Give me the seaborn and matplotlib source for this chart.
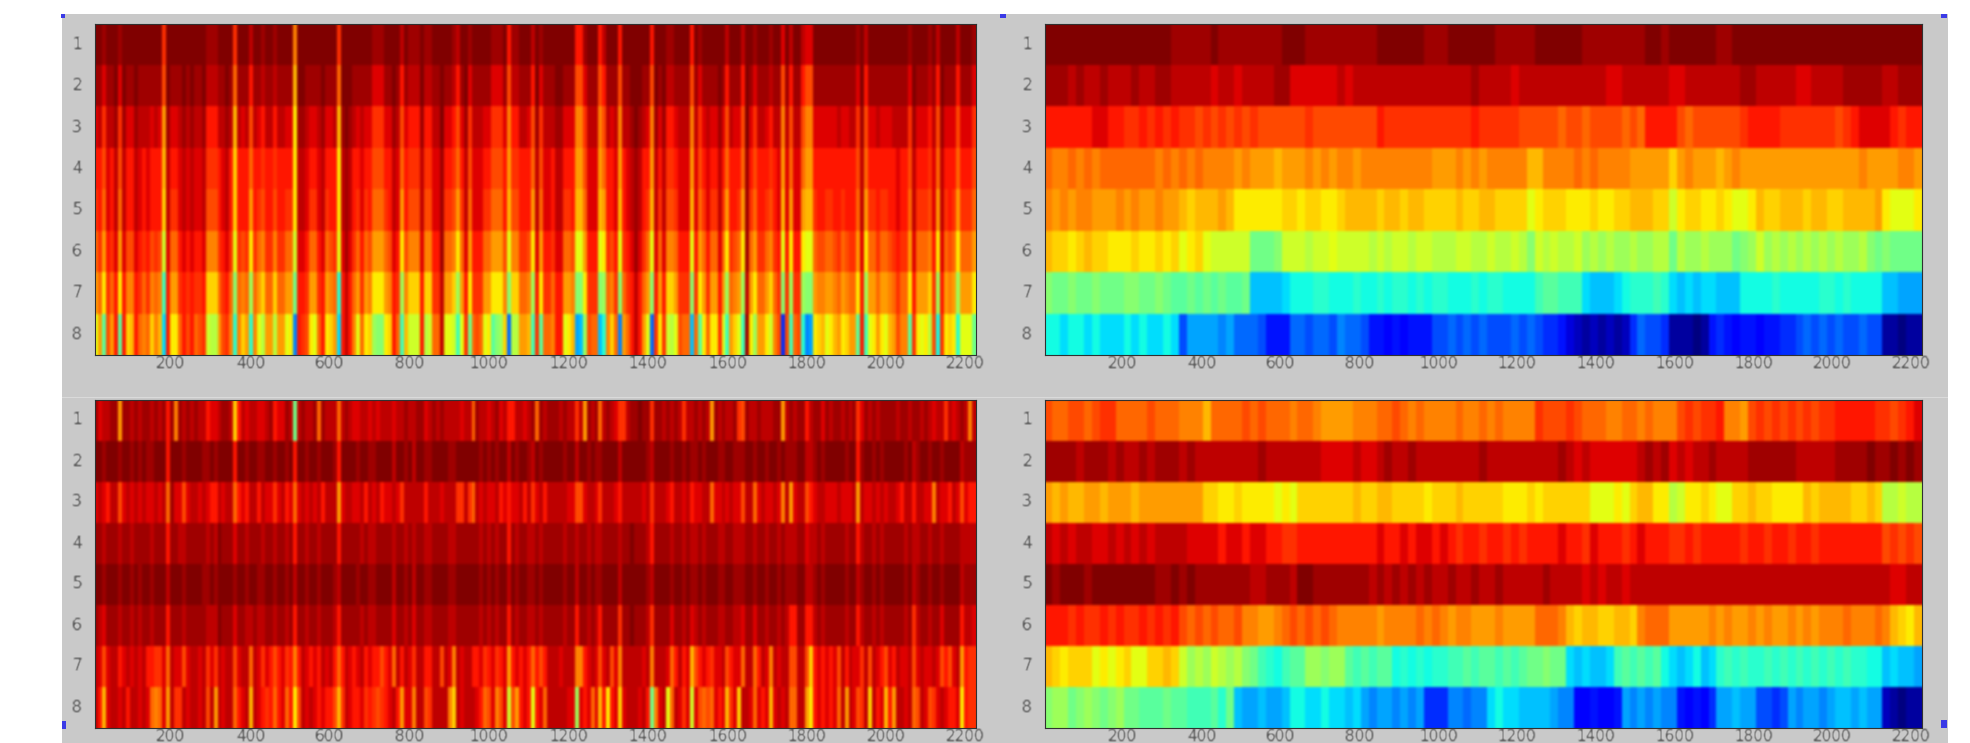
import numpy as np
import pandas as pd
import matplotlib
matplotlib.use("Agg")
import matplotlib.pyplot as plt
from matplotlib.patches import Rectangle
import seaborn as sns

# Each character is one image column.
# Base 36 level: 0 = darkest blue ... z = darkest red of the jet scale.
top_left = [
    "zzyzzzyzzz zzzzzzzuzz zzzzzzzzyy yzzzzuzzzx zzyzzyzzzz rzzzzzzzzz zuzzzzzzzz yyyzzzzxzy yyzyyzzzzz yxzzyzzzzz yyyzvyyzzz xzyzzzzzzz zvvyzzzvxz zzvzzzzzzz vzzzyyzzzz vzyzzzzzzx zzzxzzyzzz yzzwzxzzxw wzzzzzzzzz zzyzxzzzzz zzzzzyzzzz yzxzzzzxzz zy",
    "yywyyzwzyy zyyyyyytzy yyzyzyyzxx xyyzysyyyv yyxyyxyyyy pzzyyyyzyy yszzzyyyyy wwwyyzyvyx xxzxxyyzyy xvyzwyyyyy wwwytxxyyy vzwyyyzzyy yttwyyytvy yytyyzzzyy tzyzxxyyyy tywyyyyzyv yyyvzywyyy xyytyvyyvt tyyyyyyyyy yywzvyyyyy yyyyywzyyy xyvzyyyvyy yw",
    "wxuxxyuyww yxxxwxwqyw wxyxyxxyvv vxxyxpxwxt xwvxxvxxww nyyxwwxyww xpyzyxwxww uuuwwyxtwv vvyvvxxzww vtwyuxxxww uuuwrvvxxw tyuxxxyyww wrruxxxrtx wxrxxyzyxw rywyvvwxxx rxuwxwwywt xwwtzwuxxw vxxrxtxxtr rwwwwwwxww xxuytwwxww wxxxxuywww vxtywwwtww wu",
    "vvtwvxtxvv xwvwvvvpxv vwxwxwwxuu uvwxvovvvs vvuvvuvvvv nxxwvvwxvv vnxyxvvwvv tttvvxwsvu uuxuuwwyvv usvxtwwwvv tttvquuvvv sxtwwvxxvv vqqtwwwqsv vwqvwxyxvv qxvxuuvwww qwtvwvvxvs vvvsyvtvvv uvwqwswwsq qvvvvvvvvv vvtxsvvvvv vvwvvtxvvv uwsxvvvsvv vt",
    "uvswvxsxvv xwvwvvvoxu uwxwxwwxtt tvwxvovvvq vutvvtvvuu nxxwuuwxuv vnxyxvuwuv sssuvxwqvt ttxttwwyuu tquxswwwuu sssvpttvvv qxswwvxxuu vppswwwpqv vwpvwxyxvu pxuxttuwww pwsuwuuxuq vvuqyusvvu tvwpwqwwqp puvvuuvvuv vvsxquuvuu vvwvvsxuuu twqxuvuquu us",
    "suqvuwqwtt wvuvtutlws svwvwvvwrr ruvwumutun usruuruuss lwwvssvwst umwywusvst qqqstwvntr rrwrrvvyss rnswqvvvss qqqtmrruut nwqvvuwwss tmmqvvvmnu tvmuvwywus mwswrrsvvv mvqsvsswsn utsnysquus ruvmvnvvnm msttsstust uuqwnssuss tuvuuqwsss rvnwstsnss sq",
    "qsnusvnvrr vusursrfvq quvuvuuvoo osuvsisrsj sqossossqq hvvuqquvqr sevxvsquqr nnnqrvujro oovoouuxqq ojqvnuuuqq nnnrioossr jvnuusvvqq riinuuuijs ruisuvxvsq ivqvooquuu iunquqqvqj srqjxqnssq osuiujuuji iqrrqqrsqr ssnvjqqsqq rsussnvqqq oujvqrqjqq qn",
    "mqgtqvgvop vsrsorpcvn nsvtvstulk kqtureroqe rmkqqkqqmn 9vutnmsvno qcvxvrmsno jiinovsfpl llvklssxmm lfmuhstsmn gijo8kkqqp fugssrvvmn pabjtssber os9qsvxvqm 8unulkmtss bsgnsnnumf qomfynjqqn lrt6tfste9 anopmnpqno qqgvfmnqnm pqtrrgunmn ktdunonemm mh",
]

bottom_left = [
    "ywxxyyqyyx yxyyxyxyvy ryxyxyxxvw wxyyxovxwx xwwxyvwwyx hxyxxysyxx xsxyxwwxxw xwxxxwxxyx xyywxyxyxx xxwxxsyxxw xywxvvxxwx ysyxyyyxyx xuxqyxysxy xwuuxyyzyy uyyxyxyxux xyxyxqyxyx xyutyxxyxx xyyqxyxyyv xyywyxyyxy xyuwyxyxyy yyxyyxyyxy xwxxuxwxyx rx",
    "zzyzzzyzzy zyzyyzzzvz zzyzzzzyyz yzzzzvzzyz zyyzzyzzyz vzzyzzyzzz yvzzzzyzzy yzzzzxzzyz xzzyyzzzzy yzzzzzzyzy zyzzxzyzzy xzyzzzzzyz zxzzyzyyzz zzxzzzzzzy xzzzzyzzyz yyzyzzzyyz zyyyzzyzzy zzyzyyyzzx xyzyzzzzzy zzvyzzyzyz zzzzyzxyzz yzzyzzzzxy yy",
    "wxwvxxtwxw xwxwwxwxsy wwtwxxwxwv vxwxxsvwvx xvxwwuwxvw swxwxwxvxx xqwxxwwxvx wxvwwxwuxx xxxvxxxwxx xuuxusxwxw wxvwvwwxvx uwxvxxxxxw wttwxxwuxx xwvxxxxxwx uxxxwvxxwx vwwxxswwxw xwwtxxswxw wxwrxqwxxt vwxxwwwxww wxqxwwxwxw xxwvxxvxxw wrxwwvxwtw vv",
    "yyxyyyxyyx yyyyxyyyvy yxxyyyyyxy xzyyywyyxy yyxyyxyyxy vyyxyyxyyy yvyyyyyxyx xyyyyxyyxy xyyxxyyyyx xyyyyyyxyx yxyyvyxyyx xyxyyyyyxy yxyyxyxxyy yyxyyzyyyx vyyyyxyyxy xxyxyyyxxy yxxxyyxyyx yyxyxxxyyw xxyxyyyyyx yyvxyyxyxy yyyyxyxxyy xyyxyyyyxx xx",
    "zzyzzzyzzy zyzzyzzzxz zzyzzzzyyz yzzzzyzzyz zyyzzyzzyz xzzyzzyzzz yxzzzzyzzy yzzzzxzzyz xzzyyzzzzy yzzzzzzyzy zyzzxzyzzy yzyzzzzzyz zxzzyzyyzz zzxzzzzzzy xzzzzyzzyz yyzyzzzyyz zyyyzzyzzy zzyzyyyzzx xyzyzzzzzy zzxyzzyzyz zzzzyzxyzz yzzyzzzzxy yy",
    "yxwyyyxyyx yxyyxyyyvy yyxyyyyyxx xzyyywyyxx yxxyyxyyxy vyyxyyxyyy xvyyyyyxyx xyyyywyyxy wyyxxyyyyx xyyyyyyxyx yxyyvyxyyx xyxyyyyyxy yvyyxyxvyy yyuyyzyyyx uyyyywyyxy wxyxyyyxxy yxxwyywyyx yyxyxvvyyv vxyxyyyyyx yyvxyyxyxy yyyyxyuxyy xyywyyyyvx xw",
    "xwtwxxvwxw xwxvvuuwsx wwtwxxwxuw uxwxxtwxxs xwuwvtvwuv rvxwvwvxwx vsvxwvwxvw vvtvwsxvxw uxxvvxxtxw rxwxxvvwuv wuvwqvwvwv svtvxxxwxx xrrvwxwtwx twrxxxxxwx rxxxwsvxvw ptvwvuwwxt vwwsxxsvxw rxwxxttxxt ovwvwvwtxv xwwuxtxwvt wvxwwxtwxw wxwtvtwxqv uu",
    "xvpwxxwxvx xwxwsrswqx uuxwxxwxtx qxwxxsvwxp xwvuvsvwsv ntxwxwvwvv tpuxwvvwuv utuvwxvqww rxxtuxxxxr oxwxxxwvst wrtwltqvwv mvwsxxxxxw wjwvwswpvn vwowxxxwxv hrwxmsxwuw lwtstswvwp uwoxxwswvw pwxwxssxxq nvwvwvwsxq xwtuxoxvwp vqxxwxstxw tuwxwvvwnv uu",
]

top_right = [
    "zzzzzzzzzz zzzzzzyyyy yzyyyyyyyy zzzyyyyyyy yyzzzzzzyy yzzzzzzyyy yyzzzzzzyy yyyyyyzzyz zzzzzyyzzz zzzzzzzzzz zzzzzzzzzzz",
    "yyyxyxxyxx xyxxyyxxxx xwxxwxxxxy ywwwwwwxwx xxxxxxxxxx xxxxyxxxxw xxxxxxxxxx xwwxxxxxxw wxxxxxxxyy xxxxxwwxxx xyyyyyxxyyy",
    "vvvvvvwwvv uuvuvuvuut ututututttt ttuttttttt tvuuuuuuuu uuuvuuuuut ttttsttstt ttstsvvvvt sttttttuvv vvuuuuuuut uvwwwwvuvvu",
    "srrsrsrsss ssssrsrsrs rrrrqrqqqp qqqrqrqrrq rrrrrrrrrq qqrqrqrrrr rpprrrrsrs rrrrqqqqqo qrqqqpqrqq qqqqqqqqqq qqqrqqqqrrq",
    "rqrqrrqqqr qrqqrqqpop ppqpnnnnnn oonoonnopp ppoppoppoo oopooppooo omnooonnno nnoopppool noonnonmmn poopppoppo oppppqnmmmn",
    "poonopoonn nonnonomno mlllllhhhi lllkllmlll lklkllkllk kkllkklkkl kilklkkljk jkjjkjjkkh kjjkjjjhij ljkjkjkjkj kjjkihihhhh",
    "ihhihhihhh iihhihgghg hghgghbbbb cdddeeddde ddedeedede edddedeedd ddfggfffcb bbcdeeefec bcbccbbbdd ddedddddee deddddbbaaa",
    "ddcddcdccc dcdccdc7aa aa9a888755 5887887988 7554545557 7878787778 7876653212 1212687761 1101565455 4556678787 87787711011",
]

bottom_right = [
    "tssttstuus ssstsssrrr psssststss srssrqqqqr rrsstsrsrr rrsrrsrsrr rrutttutss srrssrsrrr tutuuvrrqt ututututuu vvvvvuutuvw",
    "yyyyxyyyxy xxyxyyyxyx xxxxxxxyxx xxxxxwwwwx wwxyxxyxxx xxxxxyxxxx xxxxxyxwxw wwwwwxyxyw xwxxyxxxxy yyyyyxxxxx yyyyzyyzyzy",
    "qpqppqqpqq qpqqqqqqqq oonnonnnnm nmooooooop ooppoooono oopooooonn nonoooooom mmnmoppnnk lnnonmmoop oonnnnpopp ppoopokklkk",
    "xwxwxxwwxw xwxwxxxxww wwvwwvwwvv uuvvvvvvvv vvwvvwvwwv wvuvvuvvuv uvvvvwvvuw vvvuvwvvvu uvuvvvvvuv vuvvuvvuvv vvvvvvtutut",
    "zyzzzyzzzz zzzzyyzyzy yyyyyyxxyy yxzzyyyyyy yxyxyxyxyx xyxxyxxyxx xxxyxxxxwx wxxwxxxxxx xxxxxxxxxx xxxxxxxxxx xxxxxxxwwxx",
    "vvvuvuuvuv uuvuvuvtst stsstrrqqr stststsrrr rrqrrrrsrs rqrrqqqrqq qqsssrpopp oopporsssq qqqqrqrqqr qrqqrqrqrr rsrrrsrponp",
    "ponooomnmn ommoopoljk jlkjkihfed fggjjijjgf gfggdedede effgfggfgf ghhihhcbcb bcfgfgfgdc bcdbcefefe efefefefef efeeddbcbba",
    "ijjhijihij hhggghggff fgehbaabaa bddccdccbc a9aa9a9a66 699899cdcc bbbba99445 445a9a9a99 54546aabaa 7767a9aa9a bbabaa21011",
]

row_labels = [1, 2, 3, 4, 5, 6, 7, 8]
x_ticks = [200, 400, 600, 800, 1000, 1200, 1400, 1600, 1800, 2000, 2200]

WIDTH, HEIGHT = 1970, 743
GREY = "#c9c9c9"


def decode(rows, n_cols):
    """Turn the level strings into a frame of jet values between 0 and 1."""
    table = []
    for row in rows:
        row = row.replace(" ", "")
        row = (row + row[-1] * n_cols)[:n_cols]
        table.append([int(c, 36) / 35 for c in row])
    return pd.DataFrame(table, index=row_labels)


def soften(image, dpi, radius=2, pad=0):
    """Small triangle blur, the reference is a blown up low-res screenshot."""
    if pad:
        image = np.pad(image, ((pad, pad), (pad, pad), (0, 0)), mode="constant")
    kernel = np.arange(1, radius + 2, dtype=float)
    kernel = np.concatenate([kernel, kernel[-2::-1]])
    kernel /= kernel.sum()
    out = np.pad(image, ((radius, radius), (radius, radius), (0, 0)), mode="edge")
    out = np.apply_along_axis(lambda v: np.convolve(v, kernel, mode="same"), 0, out)
    out = np.apply_along_axis(lambda v: np.convolve(v, kernel, mode="same"), 1, out)
    return out[radius:-radius, radius:-radius], -pad, -pad


def soften_text(image, dpi):
    return soften(image, dpi, radius=1, pad=3)


def draw_panel(fig, rows, n_cols, box, x_start, x_end):
    left, top, right, bottom = box
    ax = fig.add_axes([left / WIDTH, 1 - bottom / HEIGHT,
                       (right - left) / WIDTH, (bottom - top) / HEIGHT])
    sns.heatmap(decode(rows, n_cols), ax=ax, cmap="jet", vmin=0, vmax=1, cbar=False)
    ax.collections[0].set_agg_filter(soften)

    # heatmap works in column numbers, the ticks are in samples
    ax.set_xticks([(x - x_start) / (x_end - x_start) * n_cols for x in x_ticks])
    ax.set_xticklabels(x_ticks, rotation=0)
    ax.set_yticks([i + 0.5 for i in range(len(row_labels))])
    ax.set_yticklabels(row_labels, rotation=0)
    ax.tick_params(direction="in", length=4, width=1.1, color="black",
                   top=True, right=True, labelsize=11, labelcolor="#4a4a4a", pad=1)
    ax.tick_params(axis="y", pad=9)
    for label in ax.get_xticklabels() + ax.get_yticklabels():
        label.set_agg_filter(soften_text)
    for spine in ax.spines.values():
        spine.set_visible(True)
        spine.set_linewidth(0.8)
        spine.set_color("#303030")
    return ax


sns.set_theme(style="white")
fig = plt.figure(figsize=(WIDTH / 100, HEIGHT / 100), dpi=100, facecolor="white")

# grey window background of the original figure
fig.add_artist(Rectangle((62 / WIDTH, 0), (1948 - 62) / WIDTH, 1 - 14 / HEIGHT, zorder=-2,
                         transform=fig.transFigure, facecolor=GREY, edgecolor="none"))
fig.add_artist(Rectangle((62 / WIDTH, 1 - 398 / HEIGHT), (1948 - 62) / WIDTH, 1.5 / HEIGHT, zorder=-1,
                         transform=fig.transFigure, facecolor="#dadada", edgecolor="none"))

draw_panel(fig, top_left, 222, (94.5, 23.5, 975.5, 355), 8, 2225)
draw_panel(fig, top_right, 111, (1044.5, 23.5, 1922, 355), 1.5, 2227)
draw_panel(fig, bottom_left, 222, (94.5, 399.5, 975.5, 727.5), 8, 2225)
draw_panel(fig, bottom_right, 111, (1044.5, 399.5, 1922, 727.5), 1.5, 2227)

# selection handles left on the screenshot
for hx, hy, hw, hh in [(61, 14, 4, 4), (1000, 14, 6, 4), (1941, 14, 6, 4),
                       (62, 721, 4, 8), (1941, 720, 6, 8)]:
    fig.add_artist(Rectangle((hx / WIDTH, 1 - (hy + hh) / HEIGHT), hw / WIDTH, hh / HEIGHT, zorder=5,
                             transform=fig.transFigure, facecolor="#3a3ae6", edgecolor="none"))

fig.savefig("out.png", dpi=100, facecolor="white")
